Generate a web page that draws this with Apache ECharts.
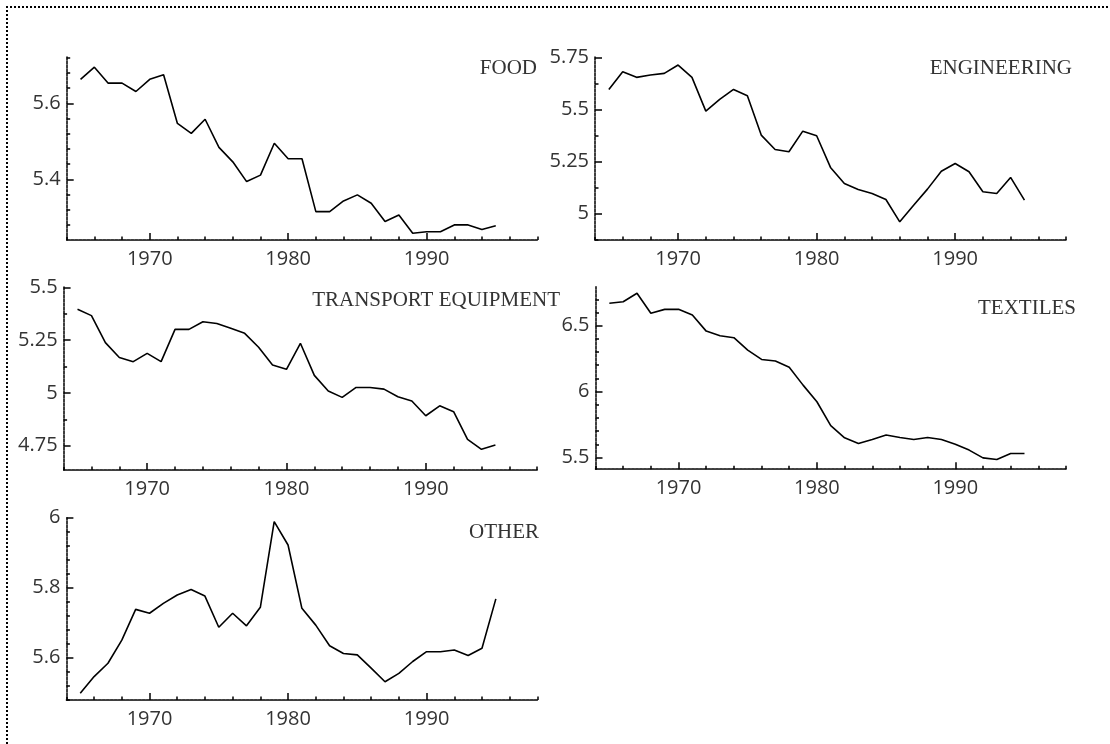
<!DOCTYPE html>
<html>
<head>
<meta charset="utf-8">
<script src="https://cdn.jsdelivr.net/npm/echarts@6/dist/echarts.min.js"></script>
<style>
  html, body { margin: 0; padding: 0; background: #fff; overflow: hidden; }
  #frame { position: absolute; left: 6px; top: 6px; width: 2000px; height: 2000px;
           border-top: 2px dotted #000; border-left: 2px dotted #000; }
  #chart { position: absolute; left: 0; top: 0; width: 1110px; height: 744px; }
</style>
</head>
<body>
<div id="frame"></div>
<div id="chart"></div>
<script>
// ---- data ----
const years = [1965,1966,1967,1968,1969,1970,1971,1972,1973,1974,1975,1976,1977,1978,1979,1980,
               1981,1982,1983,1984,1985,1986,1987,1988,1989,1990,1991,1992,1993,1994,1995];

const food = [5.663,5.695,5.653,5.653,5.631,5.663,5.675,5.547,5.521,5.558,5.484,5.446,5.394,5.411,5.495,5.454,
              5.454,5.315,5.315,5.343,5.359,5.337,5.289,5.306,5.258,5.262,5.262,5.280,5.280,5.268,5.278];

const engineering = [5.596,5.681,5.654,5.665,5.673,5.713,5.654,5.492,5.548,5.596,5.566,5.377,5.308,5.297,5.396,5.374,
                     5.222,5.145,5.116,5.097,5.068,4.961,5.041,5.118,5.204,5.241,5.201,5.105,5.097,5.174,5.065];

const transport = [5.396,5.366,5.238,5.168,5.148,5.187,5.148,5.301,5.301,5.337,5.329,5.306,5.282,5.216,5.132,5.112,
                   5.235,5.083,5.009,4.979,5.026,5.026,5.018,4.982,4.962,4.892,4.939,4.911,4.780,4.733,4.753];

const textiles = [6.670,6.682,6.746,6.594,6.624,6.624,6.581,6.459,6.424,6.409,6.315,6.244,6.232,6.184,6.049,5.923,
                  5.741,5.649,5.606,5.637,5.670,5.652,5.637,5.652,5.637,5.601,5.556,5.497,5.485,5.530,5.530];

const other = [5.498,5.546,5.584,5.650,5.738,5.727,5.755,5.779,5.795,5.776,5.687,5.727,5.691,5.744,5.989,5.922,
               5.741,5.693,5.634,5.612,5.608,5.570,5.531,5.555,5.589,5.617,5.617,5.622,5.606,5.627,5.768];

const titles = ['FOOD', 'ENGINEERING', 'TRANSPORT EQUIPMENT', 'TEXTILES', 'OTHER'];

const xTickLabels = [1970, 1980, 1990];
const foodTicks = [5.4, 5.6];
const engineeringTicks = [5, 5.25, 5.5, 5.75];
const transportTicks = [4.75, 5, 5.25, 5.5];
const textilesTicks = [5.5, 6, 6.5];
const otherTicks = [5.6, 5.8, 6];

// ---- layout ----
const panels = [
  { data: food,        ticks: foodTicks,        minorStep: 0.04,  yMin: 5.2403, yMax: 5.7226,
    grid: { left: 66.7, top: 56.7, width: 470.6, height: 183.3 }, tx: 537, ty: 68 },
  { data: engineering, ticks: engineeringTicks, minorStep: 0.125, yMin: 4.874, yMax: 5.753,
    grid: { left: 595, top: 56.7, width: 471, height: 183.3 }, tx: 1072, ty: 68 },
  { data: transport,   ticks: transportTicks,   minorStep: 0.125, yMin: 4.635, yMax: 5.503,
    grid: { left: 63.6, top: 286.7, width: 473.6, height: 183.3 }, tx: 560, ty: 300 },
  { data: textiles,    ticks: textilesTicks,    minorStep: 0.1,   yMin: 5.411, yMax: 6.796,
    grid: { left: 595.5, top: 286.7, width: 470.5, height: 182.5 }, tx: 1076, ty: 308 },
  { data: other,       ticks: otherTicks,       minorStep: 0.04,  yMin: 5.479, yMax: 6.0,
    grid: { left: 66.4, top: 517.7, width: 471, height: 182.3 }, tx: 539, ty: 532 }
];

const X_MIN = 1964, X_MAX = 1998;
const xMinor = [];
for (let y = X_MIN; y <= X_MAX; y += 2) if (xTickLabels.indexOf(y) < 0) xMinor.push(y);

function minorTicks(min, max, step, majors) {
  const out = [];
  const start = Math.ceil((min - 1e-9) / step) * step;
  for (let v = start; v <= max + 1e-9; v += step) {
    const r = Math.round(v * 1000) / 1000;
    if (!majors.some(m => Math.abs(m - r) < 1e-6)) out.push(r);
  }
  return out;
}

const axisLineStyle = { color: '#000', width: 1.5, type: [3, 1] };
const tickStyle = { color: '#000', width: 1.5 };
const labelFont = { fontFamily: '"Open Sans", sans-serif', fontSize: 20, color: '#333' };

const grid = [], xAxis = [], yAxis = [], series = [], graphic = [];

panels.forEach((p, i) => {
  grid.push(Object.assign({ containLabel: false }, p.grid));

  xAxis.push({
    gridIndex: i, type: 'value', position: 'bottom', min: X_MIN, max: X_MAX,
    axisLine: { show: true, onZero: false, lineStyle: axisLineStyle },
    axisTick: { show: true, inside: true, length: 7, customValues: xTickLabels, lineStyle: tickStyle },
    axisLabel: Object.assign({ show: true, customValues: xTickLabels, margin: 9,
                               formatter: v => String(v) }, labelFont),
    splitLine: { show: false }
  });
  xAxis.push({
    gridIndex: i, type: 'value', position: 'bottom', min: X_MIN, max: X_MAX,
    axisLine: { show: false, onZero: false },
    axisTick: { show: true, inside: true, length: 3.5, customValues: xMinor, lineStyle: tickStyle },
    axisLabel: { show: false },
    splitLine: { show: false }
  });

  const yMinor = minorTicks(p.yMin, p.yMax, p.minorStep, p.ticks);
  yAxis.push({
    gridIndex: i, type: 'value', position: 'left', min: p.yMin, max: p.yMax,
    axisLine: { show: true, onZero: false, lineStyle: axisLineStyle },
    axisTick: { show: true, inside: true, length: 7, customValues: p.ticks, lineStyle: tickStyle },
    axisLabel: Object.assign({ show: true, customValues: p.ticks, margin: 6,
                               formatter: v => String(Math.round(v * 1000) / 1000) }, labelFont),
    splitLine: { show: false }
  });
  yAxis.push({
    gridIndex: i, type: 'value', position: 'left', min: p.yMin, max: p.yMax,
    axisLine: { show: false, onZero: false },
    axisTick: { show: true, inside: true, length: 3.5, customValues: yMinor, lineStyle: tickStyle },
    axisLabel: { show: false },
    splitLine: { show: false }
  });

  series.push({
    type: 'line', xAxisIndex: 2 * i, yAxisIndex: 2 * i,
    data: years.map((yr, k) => [yr, p.data[k]]),
    showSymbol: false, symbol: 'none', smooth: false,
    lineStyle: { color: '#000', width: 1.6 },
    clip: false, silent: true
  });

  graphic.push({
    type: 'text', x: p.tx, y: p.ty, silent: true,
    style: { text: titles[i], align: 'right', verticalAlign: 'middle',
             font: '21px "Liberation Serif", "Times New Roman", serif', fill: '#333' }
  });
});

const chart = echarts.init(document.getElementById('chart'), null, { renderer: 'canvas' });
chart.setOption({
  animation: false,
  backgroundColor: 'transparent',
  grid, xAxis, yAxis, series, graphic
});
</script>
</body>
</html>
